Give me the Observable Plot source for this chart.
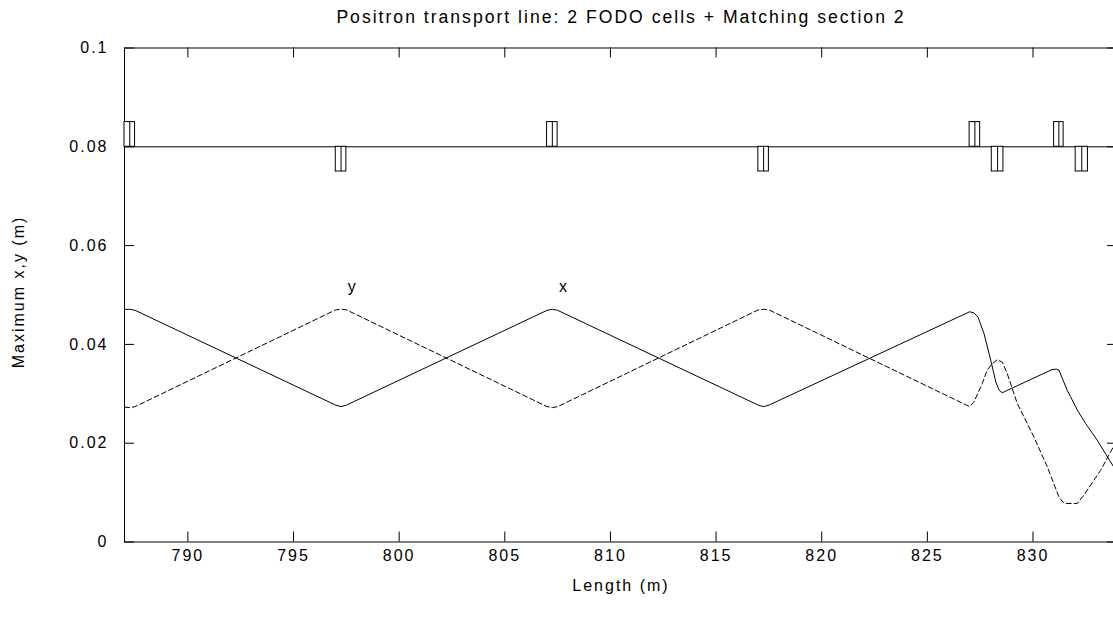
<!DOCTYPE html>
<html>
<head>
<meta charset="utf-8">
<script src="https://cdn.jsdelivr.net/npm/d3@7"></script>
<script src="https://cdn.jsdelivr.net/npm/@observablehq/plot@0.6"></script>
<style>
  html, body { margin: 0; padding: 0; background: #fff; overflow: hidden; }
  #chart svg { overflow: hidden; display: block; }
</style>
</head>
<body>
<div id="chart"></div>
<script>
// ---- data ----
const titleText = "Positron transport line: 2 FODO cells + Matching section 2";
const xLabel = "Length (m)";
const yLabel = "Maximum x,y (m)";

// beam envelope, x plane (solid)
const sX = [787.0, 787.25, 787.5, 797.0, 797.25, 797.5, 807.0, 807.25, 807.5, 817.0, 817.25, 817.5,
            827.0, 827.2, 827.4, 827.68, 828.0, 828.24, 828.4, 828.55, 828.78, 830.9, 831.1, 831.23,
            831.4, 831.62, 831.78, 832.1, 832.49, 833.04, 833.82];
const vX = [0.0471, 0.0471, 0.0469, 0.0277, 0.0274, 0.0277, 0.0469, 0.0471, 0.0469, 0.0277, 0.0274, 0.0277,
            0.0466, 0.0464, 0.0455, 0.0422, 0.0368, 0.0324, 0.0307, 0.0302, 0.0307, 0.0349, 0.0350, 0.0348,
            0.0330, 0.0307, 0.0294, 0.0267, 0.0240, 0.0206, 0.0152];

// beam envelope, y plane (dashed)
const sY = [787.0, 787.25, 787.5, 797.0, 797.25, 797.5, 807.0, 807.25, 807.5, 817.0, 817.25, 817.5,
            827.0, 827.2, 827.6, 827.83, 828.07, 828.31, 828.55, 828.78, 829.26, 830.04, 830.68,
            831.23, 831.47, 832.1, 832.41, 833.2, 833.82];
const vY = [0.0273, 0.0272, 0.0274, 0.0470, 0.0471, 0.0470, 0.0274, 0.0272, 0.0274, 0.0470, 0.0471, 0.0470,
            0.0274, 0.0283, 0.0321, 0.0348, 0.0361, 0.0369, 0.0364, 0.0341, 0.0280, 0.0213, 0.0152,
            0.0091, 0.0078, 0.0078, 0.0095, 0.0145, 0.0194];

// quadrupoles (start, end, +1 focusing drawn above, -1 below)
const quadStart = [787.0, 797.0, 807.0, 817.0, 827.0, 828.05, 831.0, 832.02];
const quadEnd   = [787.5, 797.5, 807.5, 817.5, 827.5, 828.6, 831.45, 832.6];
const quadSign  = [1, -1, 1, -1, 1, -1, 1, -1];
const magnetBase = 0.08;
const magnetHeight = 0.005;

// curve labels
const labelText = ["y", "x"];
const labelS = [797.8, 807.8];
const labelV = [0.0516, 0.0516];

// axes
const xTicks = [790, 795, 800, 805, 810, 815, 820, 825, 830];
const yTicks = [0, 0.02, 0.04, 0.06, 0.08, 0.1];
const yTickLabels = ["0", "0.02", "0.04", "0.06", "0.08", "0.1"];
const xDomain = [787, 834];
const yDomain = [0, 0.1];

// ---- build tables ----
const lineX = sX.map((s, i) => ({s, v: vX[i]}));
const lineY = sY.map((s, i) => ({s, v: vY[i]}));
const quads = quadStart.map((a, i) => ({
  a, b: quadEnd[i], m: (a + quadEnd[i]) / 2,
  y1: magnetBase, y2: magnetBase + quadSign[i] * magnetHeight
}));
const labels = labelText.map((t, i) => ({t, s: labelS[i], v: labelV[i]}));

const W = 1113, H = 617;
const mL = 124, mR = -4, mT = 47.5, mB = 75.5;
const plotW = W - mL - mR, plotH = H - mT - mB;
const tick = 10;
const font = "'Liberation Sans', Arial, Helvetica, sans-serif";

const chart = Plot.plot({
  width: W,
  height: H,
  marginLeft: mL,
  marginRight: mR,
  marginTop: mT,
  marginBottom: mB,
  style: {fontFamily: font, fontSize: "16px", color: "#000", background: "#fff", letterSpacing: "2px", overflow: "hidden"},
  x: {domain: xDomain},
  y: {domain: yDomain},
  marks: [
    Plot.frame({stroke: "#000", strokeWidth: 1}),
    // inward ticks
    Plot.tickX(xTicks, {x: d => d, insetTop: plotH - tick, stroke: "#000"}),
    Plot.tickX(xTicks, {x: d => d, insetBottom: plotH - tick, stroke: "#000"}),
    Plot.tickY(yTicks, {y: d => d, insetRight: plotW - tick, stroke: "#000"}),
    Plot.tickY(yTicks, {y: d => d, insetLeft: plotW - tick, stroke: "#000"}),
    Plot.axisX(xTicks, {anchor: "bottom", tickSize: 0, tickPadding: 8, label: null, fill: "#000"}),
    Plot.axisY(yTicks, {anchor: "left", tickSize: 0, tickPadding: 16, label: null, fill: "#000",
      tickFormat: d => yTickLabels[yTicks.indexOf(d)]}),
    // magnet lattice
    Plot.ruleY([magnetBase], {stroke: "#000", strokeWidth: 1}),
    Plot.rect(quads, {x1: "a", x2: "b", y1: "y1", y2: "y2", fill: "#fff", stroke: "#000", strokeWidth: 1}),
    Plot.ruleX(quads, {x: "m", y1: "y1", y2: "y2", stroke: "#000", strokeWidth: 1}),
    // envelopes
    Plot.line(lineX, {x: "s", y: "v", stroke: "#000", strokeWidth: 1}),
    Plot.line(lineY, {x: "s", y: "v", stroke: "#000", strokeWidth: 1, strokeDasharray: "5,3"}),
    Plot.text(labels, {x: "s", y: "v", text: "t", fill: "#000", fontSize: 16}),
    // titles
    Plot.text([titleText], {frameAnchor: "top", dy: -38, fill: "#000", fontSize: 17.6}),
    Plot.text([xLabel], {frameAnchor: "bottom", dy: 49, fill: "#000", fontSize: 16}),
    Plot.text([yLabel], {frameAnchor: "left", textAnchor: "middle", dx: -106, dy: -3, rotate: -90, fill: "#000", fontSize: 16})
  ]
});
document.getElementById("chart").appendChild(chart);
</script>
</body>
</html>
